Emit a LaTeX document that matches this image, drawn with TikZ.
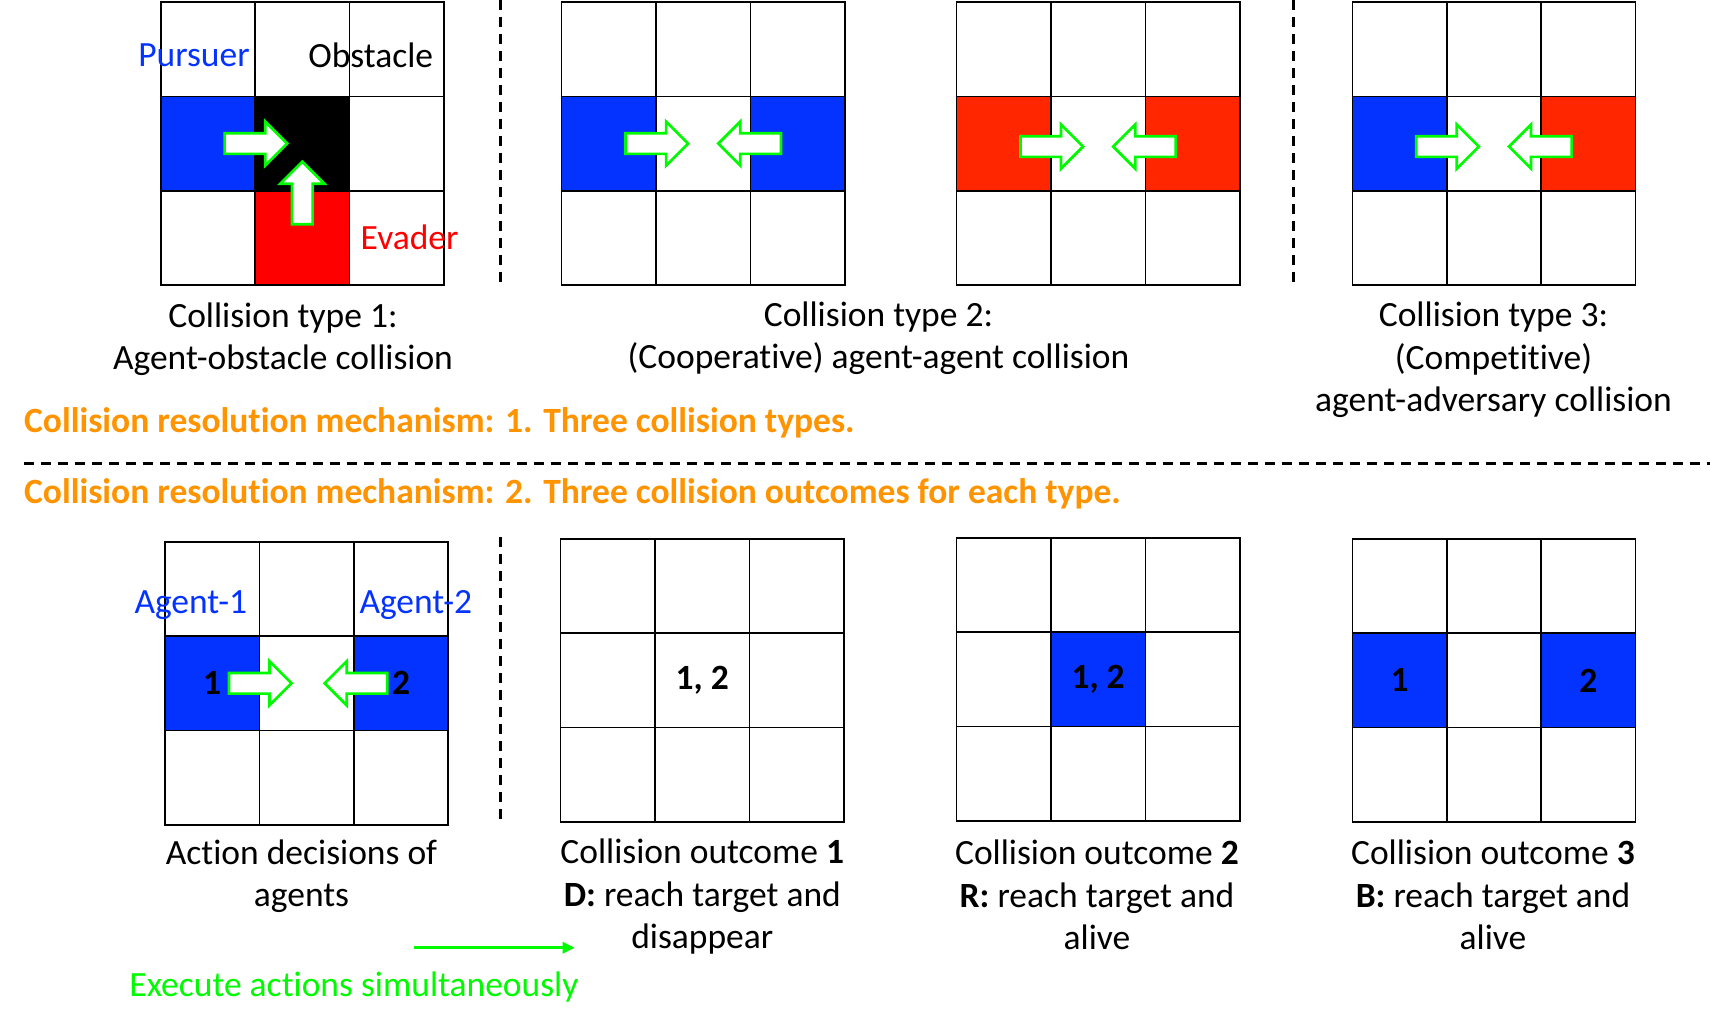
\documentclass[tikz,border=0pt]{standalone}
\usepackage{fontspec}
\setmainfont{Carlito}[Ligatures=NoCommon]
\usepackage{tikz}
\usetikzlibrary{
  arrows.meta,
  positioning
}
\definecolor{AgentBlue}{RGB}{4,51,255}
\definecolor{EvaderRed}{RGB}{255,0,0}
\definecolor{RivalRed}{RGB}{255,38,0}
\definecolor{MoveGreen}{RGB}{0,250,0}
\definecolor{TitleOrange}{RGB}{255,147,0}

% 3x3 grid of cells, top left corner at (#2,#3)
\newcommand{\gridcells}[3]{%
  \foreach \ii in {1,2,3} {
    \foreach \jj in {1,2,3} {
      \node[cell] (#1-\ii\jj) at ({#2+(\jj-0.5)*94.4},{#3+(\ii-0.5)*94.4}) {};
    }
  }%
}

\begin{document}
\begin{tikzpicture}[
  x=1pt, y=-1pt,
  cell/.style={draw, line width=1.6pt, minimum size=94.4pt, inner sep=0pt, fill=white},
  lbl/.style={font=\fontsize{35.5}{42.5}\selectfont, inner sep=0pt},
  captxt/.style={lbl, align=center},
  num/.style={lbl, font=\fontsize{35.5}{42.5}\selectfont\bfseries},
  mechhead/.style={lbl, font=\fontsize{35.5}{42.5}\selectfont\bfseries, text=TitleOrange, anchor=west},
  sepline/.style={line width=2.7pt, dash pattern=on 10pt off 7pt},
  blockarrow/.style={draw=MoveGreen, fill=white, line width=2.7pt},
  movearrow/.pic={
    \draw[blockarrow] (-31.3,-10.3) -- (9.3,-10.3) -- (9.3,-22) -- (31.3,0)
      -- (9.3,22) -- (9.3,10.3) -- (-31.3,10.3) -- cycle;
  },
]
  \useasboundingbox (0,0) rectangle (1710,1032);

  % grids, top row: collision types
  \gridcells{g1}{160.7}{2}
  \gridcells{g2}{561.6}{2}
  \gridcells{g3}{956.5}{2}
  \gridcells{g4}{1352.3}{2}
  % grids, bottom row: outcomes
  \gridcells{g5}{165}{541.7}
  \gridcells{g6}{560.6}{538.8}
  \gridcells{g7}{956.5}{537.7}
  \gridcells{g8}{1352.3}{538.8}

  % occupied cells
  \node[cell, fill=AgentBlue] at (g1-21) {};
  \node[cell, fill=black] at (g1-22) {};
  \node[cell, fill=EvaderRed] at (g1-32) {};
  \foreach \g in {g2,g5,g8} {
    \node[cell, fill=AgentBlue] at (\g-21) {};
    \node[cell, fill=AgentBlue] at (\g-23) {};
  }
  \node[cell, fill=RivalRed] at (g3-21) {};
  \node[cell, fill=RivalRed] at (g3-23) {};
  \node[cell, fill=AgentBlue] at (g4-21) {};
  \node[cell, fill=RivalRed] at (g4-23) {};
  \node[cell, fill=AgentBlue] at (g7-22) {};

  % moves
  \pic at (g1-21.east) {movearrow};
  \pic[rotate=90] at ([yshift=-3pt]g1-32.north) {movearrow};
  \pic at (g2-21.east) {movearrow};
  \pic[rotate=180] at (g2-23.west) {movearrow};
  \pic at ([yshift=-3pt]g3-21.east) {movearrow};
  \pic[rotate=180] at ([yshift=-3pt]g3-23.west) {movearrow};
  \pic at ([yshift=-3pt]g4-21.east) {movearrow};
  \pic[rotate=180] at ([yshift=-3pt]g4-23.west) {movearrow};
  \pic at (g5-21.east) {movearrow};
  \pic[rotate=180] at ([xshift=3pt]g5-23.west) {movearrow};

  % separators
  \draw[sepline] (500.6,0) -- (500.6,287);
  \draw[sepline] (1293.4,0) -- (1293.4,287);
  \draw[sepline] (500.6,537) -- (500.6,823);
  \draw[sepline] (24,463.5) -- (1710,463.5);

  % cell labels
  \node[lbl, text=AgentBlue] (pursuer) at (194,55.5) {Pursuer};
  \node[lbl] (obstacle) at (370.8,55.5) {Obstacle};
  \node[lbl, text=EvaderRed] (evader) at (409.6,237.5) {Evader};
  \node[lbl, text=AgentBlue] (agent1) at (190.8,605.5) {Agent-1};
  \node[lbl, text=AgentBlue] (agent2) at (415.8,605.5) {Agent-2};
  \node[num] (a1) at (g5-21) {1};
  \node[num] (a2) at (g5-23) {2};
  \node[num] (o1) at (g6-22) {1, 2};
  \node[num] (o2) at (g7-22) {1, 2};
  \node[num] (o3a) at (g8-21) {1};
  \node[num] (o3b) at (g8-23) {2};

  % captions
  \node[captxt] (cap1) at (283,339) {Collision type 1:\\Agent-obstacle collision};
  \node[captxt] (cap2) at (878.5,338) {Collision type 2:\\(Cooperative) agent-agent collision};
  \node[captxt] (cap3) at (1493.5,360) {Collision type 3:\\(Competitive)\\agent-adversary collision};
  \node[captxt] (cap5) at (301.5,876) {Action decisions of\\agents};
  \node[captxt] (cap6) at (702.3,897) {Collision outcome \textbf{1}\\\textbf{D:} reach target and\\disappear};
  \node[captxt] (cap7) at (1097,895) {Collision outcome \textbf{2}\\\textbf{R:} reach target and\\alive};
  \node[captxt] (cap8) at (1493,895) {Collision outcome \textbf{3}\\\textbf{B:} reach target and\\alive};

  % mechanism headings
  \node[mechhead] (mech1) at (24,423) {Collision resolution mechanism: 1. Three collision types.};
  \node[mechhead] (mech2) at (24,494) {Collision resolution mechanism: 2. Three collision outcomes for each type.};

  % execution step
  \coordinate (exA) at (414.4,947.7);
  \coordinate (exB) at (574.7,947.7);
  \draw[MoveGreen, line width=3.3pt, -{Triangle[length=12pt,width=11pt]}] (exA) -- (exB);
  \node[lbl, text=MoveGreen] (exec) at (354,987) {Execute actions simultaneously};
\end{tikzpicture}
\end{document}
